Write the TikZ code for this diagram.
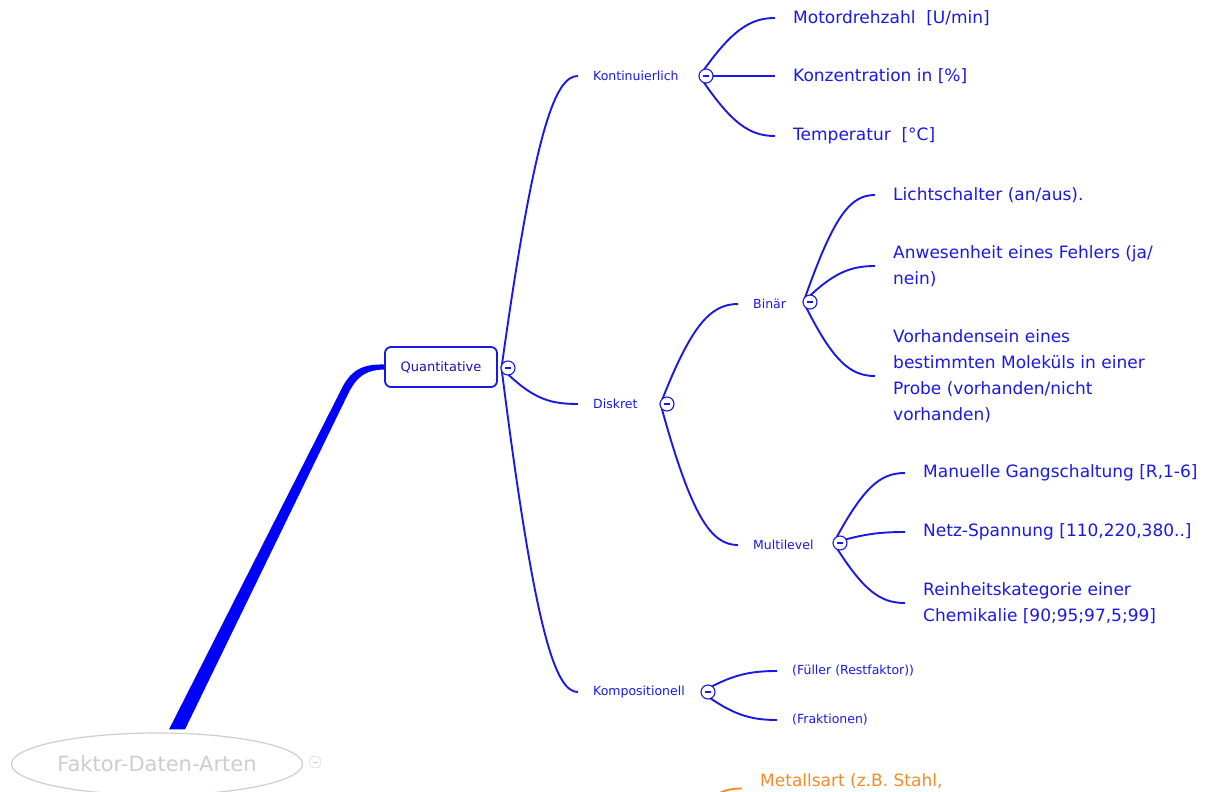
\documentclass[tikz,border=0pt]{standalone}
\usepackage{fontspec}
\setmainfont{DejaVu Sans}
\usetikzlibrary{shapes,positioning,calc}
\definecolor{mapblue}{RGB}{25,25,225}
\definecolor{rootgray}{RGB}{205,205,205}
\definecolor{leaforange}{RGB}{240,140,40}

\begin{document}
\begin{tikzpicture}[x=1pt,y=-1pt,
    branch/.style={mapblue,line width=1.9pt},
    toggle/.style={circle,draw=mapblue,fill=white,line width=1.1pt,minimum size=14pt,inner sep=0pt,text=mapblue},
    label/.style={anchor=west,text=mapblue,font=\fontsize{12.5}{14}\selectfont,inner xsep=15pt,inner ysep=0pt},
    leaf/.style={anchor=west,align=left,text=mapblue,font=\fontsize{17}{26}\selectfont,inner xsep=18pt,inner ysep=0pt}]
    \useasboundingbox (0,0) rectangle (1207,792);

    % Root and main topic
    \node[ellipse,draw=rootgray,line width=1.2pt,minimum width=290pt,minimum height=62pt,
          text=rootgray,font=\fontsize{21}{24}\selectfont] (root) at (157,764) {Faktor-Daten-Arten};
    \node[circle,draw=rootgray,minimum size=12pt,inner sep=0pt,text=rootgray] (rootT) at (315,762) {\rule{5pt}{0.8pt}};
    \node[rounded corners=6pt,draw=mapblue,line width=1.8pt,minimum width=112pt,minimum height=40pt,
          text=mapblue!80!black,font=\fontsize{13}{15}\selectfont] (quant) at (441,367) {Quantitative};
    \fill[blue] ($(root.north)+(12,-3)$) -- (340,392) .. controls (350,370) and (362,364) .. ($(quant.west)+(0,-2.5)$)
        -- ($(quant.west)+(0,2.5)$) .. controls (366,370) and (357,376) .. (348,394) -- ($(root.north)+(28,-3)$) -- cycle;

    % Second level
    \node[label] (kont) at (578,76) {Kontinuierlich};
    \node[label] (diskret) at (578,404) {Diskret};
    \node[label] (kompo) at (578,692) {Kompositionell};
    \node[label] (binaer) at (738,304) {Binär};
    \node[label] (multi) at (738,545) {Multilevel};

    % Leaves
    \node[leaf] (motor) at (775,18) {Motordrehzahl\ \ [U/min]};
    \node[leaf] (konz) at (775,76) {Konzentration in [\%]};
    \node[leaf] (temp) at (775,136) {Temperatur\ \ [°C]};
    \node[leaf] (licht) at (875,195) {Lichtschalter (an/aus).};
    \node[leaf] (fehler) at (875,266) {Anwesenheit eines Fehlers (ja/\\nein)};
    \node[leaf] (molekuel) at (875,376) {Vorhandensein eines\\bestimmten Moleküls in einer\\Probe (vorhanden/nicht\\vorhanden)};
    \node[leaf] (gang) at (905,473) {Manuelle Gangschaltung [R,1-6]};
    \node[leaf] (netz) at (905,532) {Netz-Spannung [110,220,380..]};
    \node[leaf] (rein) at (905,603) {Reinheitskategorie einer\\Chemikalie [90;95;97,5;99]};
    \node[label] (fueller) at (777,671) {(Füller (Restfaktor))};
    \node[label] (frakt) at (777,720) {(Fraktionen)};
    \node[leaf,text=leaforange,anchor=base west] (metal) at (742,786) {Metallsart (z.B. Stahl,};
    \coordinate (metalStart) at (712,800);

    % Toggles
    \coordinate (quantT) at (508,368);
    \coordinate (kontT) at (706,76);
    \coordinate (diskretT) at (667,404);
    \coordinate (binaerT) at (810,302);
    \coordinate (multiT) at (840,543);
    \coordinate (kompoT) at (708,692);

    % Connections
    \foreach \n/\a/\b in {kont/{34,-245}/{-22,0}, diskret/{30,30}/{-30,0}, kompo/{34,270}/{-22,0}} {
        \draw[branch] ($(quantT)+(-6.5,0)$) .. controls +(\a) and +(\b) .. (\n.west);
    }
    \foreach \n/\a/\b in {motor/{32,-46}/{-25,0}, konz/{30,0}/{-25,0}, temp/{32,48}/{-25,0}} {
        \draw[branch] ($(kontT)+(-6.5,0)$) .. controls +(\a) and +(\b) .. (\n.west);
    }
    \foreach \n/\a/\b in {binaer/{31,-80}/{-27,0}, multi/{31,113}/{-27,0}} {
        \draw[branch] ($(diskretT)+(-6.5,0)$) .. controls +(\a) and +(\b) .. (\n.west);
    }
    \foreach \n/\a/\b in {licht/{30,-86}/{-25,0}, fehler/{29,-29}/{-25,0}, molekuel/{29,59}/{-25,0}} {
        \draw[branch] ($(binaerT)+(-6.5,0)$) .. controls +(\a) and +(\b) .. (\n.west);
    }
    \foreach \n/\a/\b in {gang/{30,-56}/{-25,0}, netz/{29,-9}/{-25,0}, rein/{30,48}/{-25,0}} {
        \draw[branch] ($(multiT)+(-6.5,0)$) .. controls +(\a) and +(\b) .. (\n.west);
    }
    \foreach \n/\a/\b in {fueller/{30,-17}/{-28,0}, frakt/{30,22}/{-28,0}} {
        \draw[branch] ($(kompoT)+(-6.5,0)$) .. controls +(\a) and +(\b) .. (\n.west);
    }
    \draw[branch,leaforange] (metalStart) .. controls +(6,-9) and +(-12,0) .. (metal.south west);

    % Toggle circles on top
    \foreach \t in {quantT,kontT,diskretT,binaerT,multiT,kompoT} {
        \node[toggle] (\t c) at (\t) {\rule{6pt}{1.3pt}};
    }
\end{tikzpicture}
\end{document}
